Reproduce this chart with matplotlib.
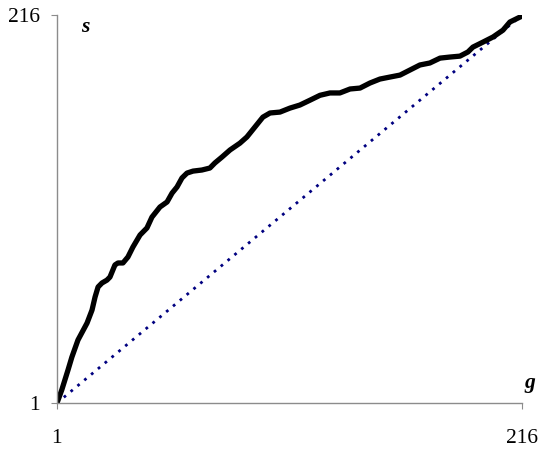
import matplotlib
matplotlib.use("Agg")
import matplotlib.pyplot as plt

# 数据
g_vals = [1, 3.2, 6.1, 7.9, 10.7, 14.9, 17.2, 18.6, 20.0, 21.8, 24.1, 25.5, 27.8,
          29.2, 31.5, 33.8, 36.1, 39.4, 42.6, 44.9, 48.6, 51.9, 54.2, 56.5, 58.8,
          61.1, 63.9, 68.0, 71.7, 74.0, 77.3, 81.0, 85.6, 88.8, 92.5, 96.2, 99.5,
          104.1, 108.7, 113.3, 118.0, 122.6, 127.2, 131.8, 136.5, 141.1, 145.7,
          150.3, 154.9, 159.6, 164.2, 168.8, 173.4, 178.1, 182.7, 187.3, 191.0,
          193.3, 198.0, 202.6, 207.2, 210.4, 216]
s_vals = [1, 8.2, 19.3, 26.5, 35.9, 45.3, 52.5, 59.7, 65.3, 67.5, 69.1, 70.8, 77.5,
          78.6, 78.6, 81.9, 87.4, 94.1, 98.0, 104.0, 109.6, 112.4, 117.3, 120.7,
          125.7, 128.4, 129.5, 130.1, 131.2, 134.0, 137.3, 141.2, 145.0, 148.4,
          153.9, 159.4, 161.7, 162.2, 164.4, 166.1, 168.8, 171.5, 172.8, 172.8,
          175.0, 175.5, 178.3, 180.5, 181.6, 182.7, 185.5, 188.3, 189.4, 192.1,
          192.7, 193.2, 195.5, 198.2, 201.0, 203.8, 207.6, 212.1, 215.4]
diag = [1, 216]
tick_vals = [1, 216]
tick_labels = ["1", "216"]

SERIF = ["Liberation Serif", "DejaVu Serif"]

fig = plt.figure(figsize=(5.5, 4.5), dpi=100)
ax = fig.add_axes([0.1036, 0.1044, 0.8455, 0.8623])

ax.plot(diag, diag, color="#000080", lw=2.0, linestyle=(0, (1, 2.2)),
        dash_capstyle="butt")
ax.plot(g_vals, s_vals, color="black", lw=3.8, solid_joinstyle="round")

ax.set_xlim(1, 216)
ax.set_ylim(1, 216)
for side in ["top", "right"]:
    ax.spines[side].set_visible(False)
for side in ["left", "bottom"]:
    ax.spines[side].set_color("#8c8c8c")
    ax.spines[side].set_linewidth(1.0)

ax.set_xticks(tick_vals)
ax.set_xticklabels(tick_labels)
ax.set_yticks(tick_vals)
ax.set_yticklabels(tick_labels)
ax.tick_params(axis="both", direction="out", length=4.5, color="#8c8c8c",
               labelsize=15.5)
ax.tick_params(axis="x", pad=14)
ax.tick_params(axis="y", pad=8)
for lab in ax.get_xticklabels() + ax.get_yticklabels():
    lab.set_family(SERIF)

fig.text(85 / 550, 1 - 27 / 450, "s", family=SERIF, fontsize=15.5,
         fontweight="bold", fontstyle="italic", ha="center", va="center")
fig.text(530 / 550, 1 - 383 / 450, "g", family=SERIF, fontsize=15.5,
         fontweight="bold", fontstyle="italic", ha="center", va="center")

fig.savefig("out.png", dpi=100)
